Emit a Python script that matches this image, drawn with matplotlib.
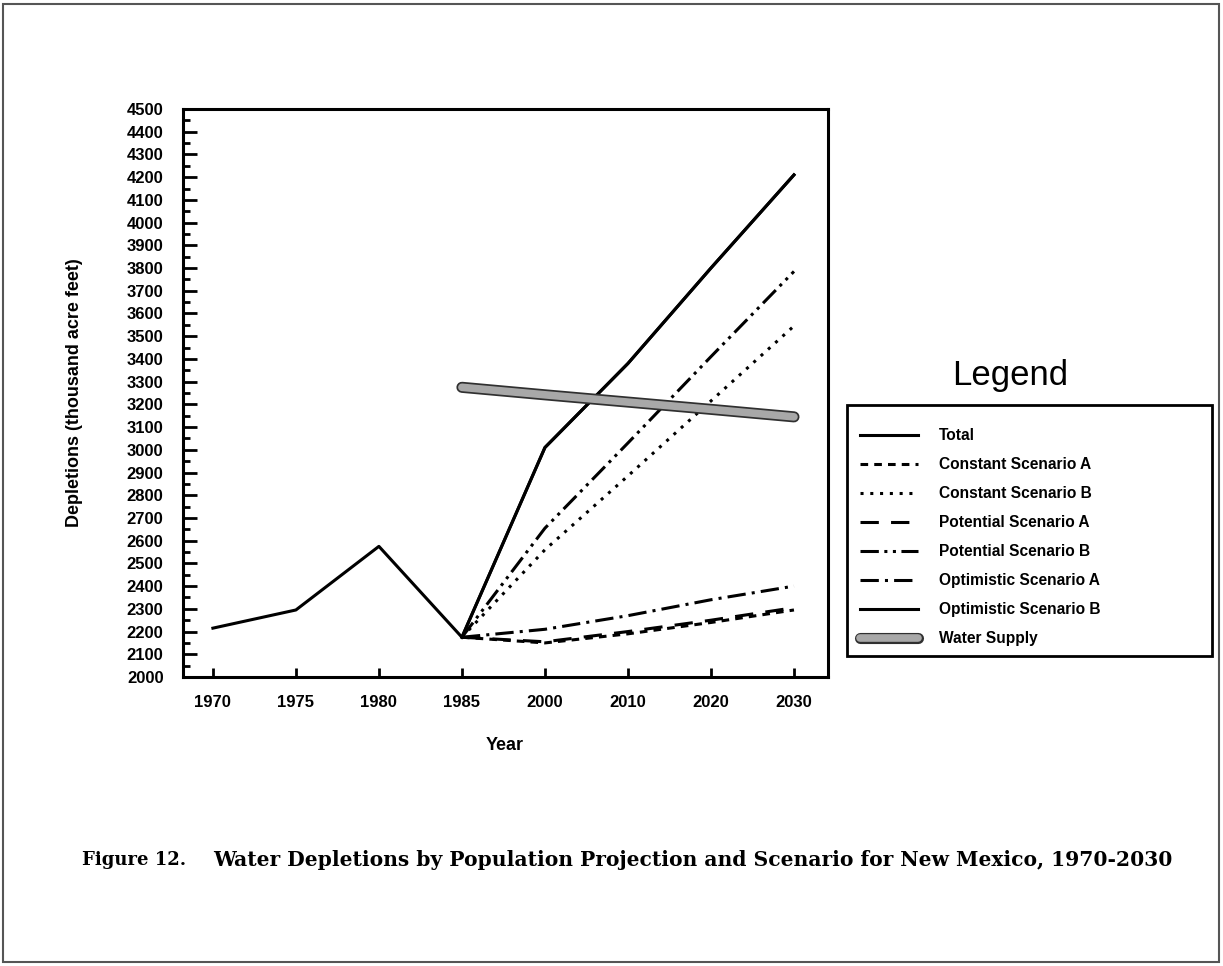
import matplotlib
matplotlib.use("Agg")
import matplotlib.pyplot as plt
import matplotlib.patheffects as pe
from matplotlib.patches import Rectangle

# Data
years = ["1970", "1975", "1980", "1985", "2000", "2010", "2020", "2030"]
hist_vals = [2215, 2295, 2575, 2175]          # 1970-1985 actual
proj_years = ["1985", "2000", "2010", "2020", "2030"]
total = [2175, 3010, 3380, 3800, 4210]
constant_a = [2175, 2150, 2190, 2240, 2295]
constant_b = [2175, 2560, 2885, 3215, 3545]
potential_a = [2175, 2155, 2200, 2250, 2305]
potential_b = [2175, 2655, 3030, 3410, 3785]
optimistic_a = [2175, 2210, 2270, 2340, 2400]
optimistic_b = [2175, 3010, 3380, 3800, 4210]
supply = [3275, 3242, 3210, 3178, 3145]

W, H = 1223, 966
fig = plt.figure(figsize=(W / 100, H / 100), dpi=100)
plt.rcParams['font.family'] = ['Liberation Sans', 'DejaVu Sans']

ax = fig.add_axes([183 / W, 1 - 677 / H, (828 - 183) / W, (677 - 109) / H])

xpos = {y: i for i, y in enumerate(years)}
px = [xpos[y] for y in proj_years]

ax.plot(range(4), hist_vals, color='black', lw=2.2)
ax.plot(px, total, color='black', lw=2.2, label='Total')
ax.plot(px, constant_a, color='black', lw=2.2, ls=(0, (2.5, 2)), label='Constant Scenario A')
ax.plot(px, constant_b, color='black', lw=2.2, ls=(0, (1, 2.2)), label='Constant Scenario B')
ax.plot(px, potential_a, color='black', lw=2.2, ls=(0, (6, 4)), label='Potential Scenario A')
ax.plot(px, potential_b, color='black', lw=2.2, ls=(0, (6, 1.8, 1, 1.8, 1, 1.8)), label='Potential Scenario B')
ax.plot(px, optimistic_a, color='black', lw=2.2, ls=(0, (6, 2, 1, 2)), label='Optimistic Scenario A')
ax.plot(px, optimistic_b, color='black', lw=2.2, label='Optimistic Scenario B')
ax.plot(px, supply, color='#a8a8a8', lw=5.5, solid_capstyle='round', label='Water Supply',
        path_effects=[pe.Stroke(linewidth=8, foreground='#303030'), pe.Normal()])

ax.set_xlim(-0.36, 7.41)
ax.set_ylim(2000, 4500)
ax.set_xticks(range(len(years)))
ax.set_xticklabels(years)
ax.set_yticks(range(2000, 4501, 100))
ax.set_yticks(range(2050, 4500, 100), minor=True)
ax.tick_params(axis='y', which='major', direction='in', length=10, width=2, pad=14,
               labelsize=12)
ax.tick_params(axis='y', which='minor', direction='in', length=5, width=2)
ax.tick_params(axis='x', direction='in', length=6.5, width=2, pad=13, labelsize=12)
for lab in ax.get_xticklabels() + ax.get_yticklabels():
    lab.set_fontweight('bold')
for s in ax.spines.values():
    s.set_linewidth(2.2)

fig.text(75 / W, 1 - 393 / H, 'Depletions (thousand acre feet)', rotation=90,
         ha='center', va='center', fontsize=13, fontweight='bold')
fig.text(505 / W, 1 - 745 / H, 'Year', ha='center', va='center', fontsize=13,
         fontweight='bold')

# legend
fig.text(1010 / W, 1 - 375 / H, 'Legend', ha='center', va='center', fontsize=25)
fig.patches.append(Rectangle((847 / W, 1 - 656 / H), (1212 - 847) / W, (656 - 405) / H,
                             transform=fig.transFigure, fill=False, edgecolor='black',
                             lw=2))
leg = fig.legend(loc='upper left', bbox_to_anchor=(846 / W, 1 - 414 / H), frameon=False,
                 handlelength=3.75, handletextpad=1.3, labelspacing=0.9,
                 prop={'weight': 'bold', 'size': 11.2})

# caption
fig.text(82 / W, 1 - 860 / H, 'Figure 12.', ha='left', va='center', fontsize=13,
         fontweight='bold', family='DejaVu Serif')
fig.text(213 / W, 1 - 860 / H,
         'Water Depletions by Population Projection and Scenario for New Mexico, 1970-2030',
         ha='left', va='center', fontsize=14.6, fontweight='bold', family='DejaVu Serif')

# page border
fig.patches.append(Rectangle((3 / W, 4 / H), (W - 7) / W, (H - 8) / H,
                             transform=fig.transFigure, fill=False, edgecolor='#555555',
                             lw=1.5))

fig.savefig('out.png', dpi=100)
